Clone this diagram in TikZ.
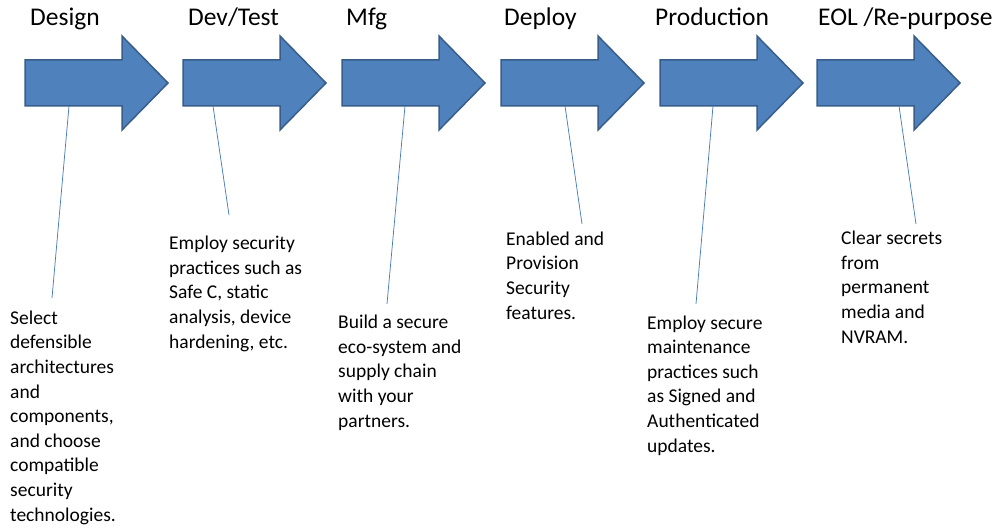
\documentclass[tikz,border=0pt]{standalone}
\usepackage{fontspec}
\setmainfont{Carlito}
\definecolor{arrowfill}{HTML}{4F81BD}
\definecolor{arrowedge}{HTML}{385D8A}
\definecolor{leadercol}{HTML}{4A7EBB}
\tikzset{
  stagearrow/.pic={
    \draw[fill=arrowfill, draw=arrowedge, line width=1.5pt, line join=miter]
      (0,60) -- (97,60) -- (97,36) -- (143,83) -- (97,130) -- (97,106) -- (0,106) -- cycle;
  },
  stagetitle/.style={anchor=base west, inner sep=0pt, font=\fontsize{25.5}{30}\selectfont},
  % multi-line notes are placed by the baseline of their last line
  stagenote/.style={anchor=base west, inner sep=0pt, align=left, font=\fontsize{19.5}{24.6}\selectfont},
  leader/.style={draw=leadercol, line width=0.75pt}
}
\begin{document}
\begin{tikzpicture}[x=1pt, y=-1pt]
\useasboundingbox (0,0) rectangle (1000,529);

% stage arrows
\pic at (25,0)  {stagearrow};
\pic at (183,0) {stagearrow};
\pic at (342,0) {stagearrow};
\pic at (501,0) {stagearrow};
\pic at (660,0) {stagearrow};
\pic at (817,0) {stagearrow};

% stage titles
\node[stagetitle] (tDesign) at (30,26)  {Design};
\node[stagetitle] (tDev)    at (188,26) {Dev/Test};
\node[stagetitle] (tMfg)    at (346,26) {Mfg};
\node[stagetitle] (tDeploy) at (504,26) {Deploy};
\node[stagetitle] (tProd)   at (655,26) {Production};
\node[stagetitle] (tEol)    at (818,26) {EOL /Re-purpose};

% notes
\node[stagenote] (nDesign) at (10,521) {Select\\defensible\\architectures\\and\\components,\\and choose\\compatible\\security\\technologies.};
\node[stagenote] (nDev) at (169,348) {Employ security\\practices such as\\Safe C, static\\analysis, device\\hardening, etc.};
\node[stagenote] (nMfg) at (338,427) {Build a secure\\eco-system and\\supply chain\\with your\\partners.};
\node[stagenote] (nDeploy) at (506,319) {Enabled and\\Provision\\Security\\features.};
\node[stagenote] (nProd) at (647,452) {Employ secure\\maintenance\\practices such\\as Signed and\\Authenticated\\updates.};
\node[stagenote] (nEol) at (841,343) {Clear secrets\\from\\permanent\\media and\\NVRAM.};

% leader lines from arrows to notes
\coordinate (aDesign) at (69,106);  \coordinate (eDesign) at (52,298);
\coordinate (aDev)    at (213,106); \coordinate (eDev)    at (229,215);
\coordinate (aMfg)    at (405,106); \coordinate (eMfg)    at (387,304);
\coordinate (aDeploy) at (565,106); \coordinate (eDeploy) at (582,224);
\coordinate (aProd)   at (713,106); \coordinate (eProd)   at (696,304);
\coordinate (aEol)    at (899,106); \coordinate (eEol)    at (916,224);
\draw[leader] (aDesign) -- (eDesign);
\draw[leader] (aDev) -- (eDev);
\draw[leader] (aMfg) -- (eMfg);
\draw[leader] (aDeploy) -- (eDeploy);
\draw[leader] (aProd) -- (eProd);
\draw[leader] (aEol) -- (eEol);
\end{tikzpicture}
\end{document}
